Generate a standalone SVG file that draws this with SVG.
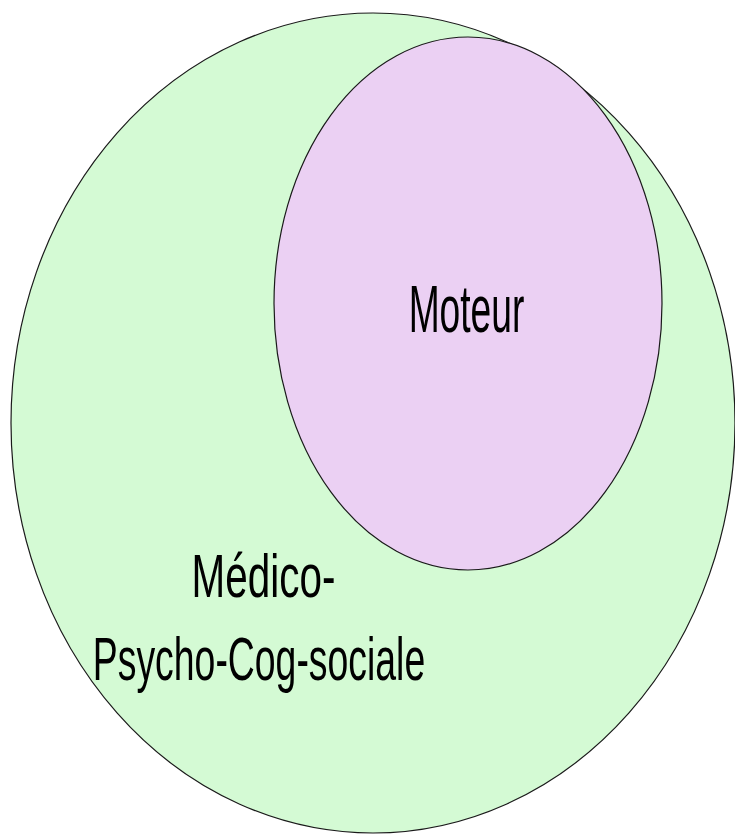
<svg xmlns="http://www.w3.org/2000/svg" width="735" height="834" viewBox="0 0 735 834">
  <style>
    .shape { stroke: #1a1a1a; stroke-width: 1.2; }
    .lbl { font-family: "Liberation Sans", Arial, sans-serif; fill: #000; text-anchor: middle; }
  </style>
  <rect x="0" y="0" width="735" height="834" fill="#ffffff"/>
  <g id="medico-psycho-cog-sociale">
    <ellipse class="shape" cx="373" cy="423" rx="362" ry="410" fill="#d4fad4"/>
    <text class="lbl" font-size="62" transform="translate(263.5,597) scale(0.652,1)">Médico-</text>
    <text class="lbl" font-size="62" transform="translate(259,680) scale(0.603,1)">Psycho-Cog-sociale</text>
  </g>
  <g id="moteur">
    <ellipse class="shape" cx="468" cy="303.5" rx="194" ry="266.5" fill="#ebd0f3"/>
    <text class="lbl" font-size="67" transform="translate(466.5,332) scale(0.555,1)">Moteur</text>
  </g>
  <g id="connectors"/>
</svg>
